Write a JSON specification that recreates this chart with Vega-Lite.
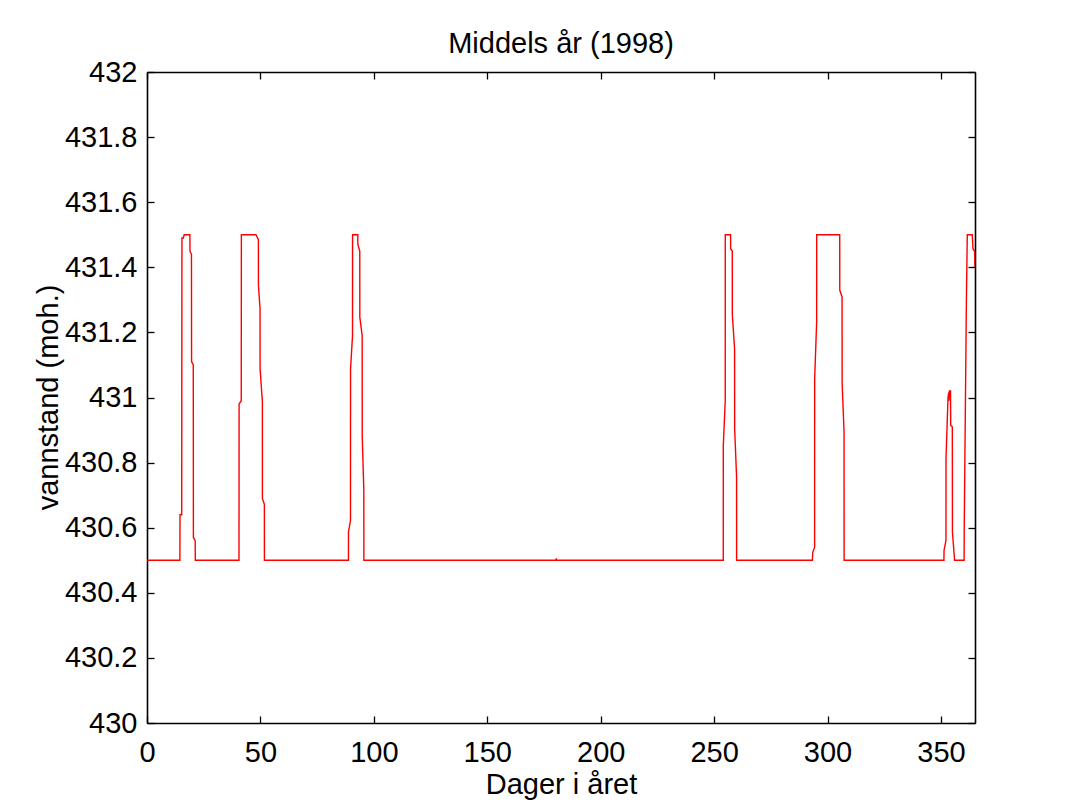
{
  "$schema": "https://vega.github.io/schema/vega-lite/v6.json",
  "autosize": "none",
  "width": 828,
  "height": 651,
  "padding": {"left": 147, "top": 72, "right": 95, "bottom": 88},
  "background": "white",
  "config": {"view": {"stroke": null}, "font": "Liberation Sans"},
  "title": {"text": "Middels år (1998)", "font": "Liberation Sans", "fontSize": 29, "fontWeight": "normal", "color": "black", "anchor": "middle", "baseline": "alphabetic", "frame": "group", "offset": -24},
  "data": {"values": [
    {"day": 0, "level": 430.5},
    {"day": 14.5, "level": 430.5},
    {"day": 14.55, "level": 430.64},
    {"day": 15.3, "level": 430.64},
    {"day": 15.4, "level": 431.49},
    {"day": 16.0, "level": 431.49},
    {"day": 16.4, "level": 431.5},
    {"day": 18.9, "level": 431.5},
    {"day": 18.95, "level": 431.45},
    {"day": 19.6, "level": 431.44},
    {"day": 19.65, "level": 431.11},
    {"day": 20.4, "level": 431.1},
    {"day": 20.45, "level": 430.57},
    {"day": 21.25, "level": 430.56},
    {"day": 21.3, "level": 430.5},
    {"day": 40.55, "level": 430.5},
    {"day": 40.6, "level": 430.98},
    {"day": 41.55, "level": 430.99},
    {"day": 41.6, "level": 431.5},
    {"day": 48.05, "level": 431.5},
    {"day": 49.1, "level": 431.485},
    {"day": 49.12, "level": 431.344},
    {"day": 49.83, "level": 431.273},
    {"day": 49.85, "level": 431.088},
    {"day": 50.86, "level": 430.988},
    {"day": 50.88, "level": 430.689},
    {"day": 51.74, "level": 430.672},
    {"day": 51.76, "level": 430.5},
    {"day": 88.8, "level": 430.5},
    {"day": 88.82, "level": 430.587},
    {"day": 89.7, "level": 430.622},
    {"day": 89.72, "level": 431.088},
    {"day": 90.6, "level": 431.19},
    {"day": 90.62, "level": 431.5},
    {"day": 92.93, "level": 431.5},
    {"day": 92.95, "level": 431.47},
    {"day": 93.8, "level": 431.45},
    {"day": 93.82, "level": 431.247},
    {"day": 94.85, "level": 431.19},
    {"day": 94.87, "level": 430.883},
    {"day": 95.58, "level": 430.715},
    {"day": 95.6, "level": 430.5},
    {"day": 180.3, "level": 430.5},
    {"day": 180.45, "level": 430.506},
    {"day": 180.6, "level": 430.5},
    {"day": 254.03, "level": 430.5},
    {"day": 254.05, "level": 430.853},
    {"day": 254.9, "level": 430.991},
    {"day": 254.92, "level": 431.5},
    {"day": 257.26, "level": 431.5},
    {"day": 257.28, "level": 431.457},
    {"day": 258.0, "level": 431.45},
    {"day": 258.02, "level": 431.254},
    {"day": 259.03, "level": 431.15},
    {"day": 259.05, "level": 430.904},
    {"day": 259.9, "level": 430.756},
    {"day": 259.92, "level": 430.5},
    {"day": 293.3, "level": 430.5},
    {"day": 293.5, "level": 430.525},
    {"day": 294.3, "level": 430.54},
    {"day": 294.32, "level": 431.058},
    {"day": 295.2, "level": 431.232},
    {"day": 295.22, "level": 431.5},
    {"day": 305.37, "level": 431.5},
    {"day": 305.39, "level": 431.33},
    {"day": 306.4, "level": 431.309},
    {"day": 306.42, "level": 431.045},
    {"day": 307.28, "level": 430.893},
    {"day": 307.3, "level": 430.5},
    {"day": 351.3, "level": 430.5},
    {"day": 351.35, "level": 430.53},
    {"day": 352.2, "level": 430.561},
    {"day": 352.22, "level": 430.812},
    {"day": 353.1, "level": 431.0},
    {"day": 353.4, "level": 431.015},
    {"day": 353.5, "level": 430.99},
    {"day": 353.7, "level": 431.02},
    {"day": 354.2, "level": 431.02},
    {"day": 354.3, "level": 430.914},
    {"day": 355.0, "level": 430.91},
    {"day": 355.05, "level": 430.587},
    {"day": 356.0, "level": 430.5},
    {"day": 360.2, "level": 430.5},
    {"day": 360.25, "level": 430.597},
    {"day": 361.2, "level": 431.294},
    {"day": 361.6, "level": 431.5},
    {"day": 363.8, "level": 431.5},
    {"day": 364.1, "level": 431.457},
    {"day": 364.8, "level": 431.45},
    {"day": 365.0, "level": 431.4}
  ]},
  "encoding": {
    "x": {"field": "day", "type": "quantitative", "scale": {"domain": [0, 365], "nice": false, "zero": false}},
    "y": {"field": "level", "type": "quantitative", "scale": {"domain": [430, 432], "nice": false, "zero": false}}
  },
  "layer": [
    {
      "mark": {"type": "line", "color": "#ff0000", "strokeWidth": 1.4, "clip": true},
      "encoding": {
        "x": {"field": "day", "type": "quantitative", "scale": {"domain": [0, 365], "nice": false, "zero": false},
          "axis": {"orient": "bottom", "values": [0, 50, 100, 150, 200, 250, 300, 350], "grid": false,
            "tickSize": -7, "tickColor": "black", "tickWidth": 1.3, "labelPadding": 22, "labelFontSize": 29,
            "labelFont": "Liberation Sans", "labelColor": "black", "labelFlush": false, "labelOverlap": false,
            "domainColor": "black", "domainWidth": 1.6, "title": "Dager i året", "titleFont": "Liberation Sans",
            "titleFontSize": 29, "titleFontWeight": "normal", "titleColor": "black", "titleX": 414, "titleY": 70,
            "titleBaseline": "alphabetic", "titleAlign": "center", "titleAnchor": null}},
        "y": {"field": "level", "type": "quantitative", "scale": {"domain": [430, 432], "nice": false, "zero": false},
          "axis": {"orient": "left", "values": [430, 430.2, 430.4, 430.6, 430.8, 431, 431.2, 431.4, 431.6, 431.8, 432],
            "format": "~g", "grid": false, "tickSize": -7, "tickColor": "black", "tickWidth": 1.3, "labelPadding": 17,
            "labelFontSize": 29, "labelFont": "Liberation Sans", "labelColor": "black", "labelFlush": false,
            "labelOverlap": false, "domainColor": "black", "domainWidth": 1.6, "title": "vannstand (moh.)",
            "titleFont": "Liberation Sans", "titleFontSize": 29, "titleFontWeight": "normal", "titleColor": "black",
            "titleX": -90, "titleY": 325, "titleAngle": -90, "titleBaseline": "alphabetic", "titleAlign": "center", "titleAnchor": null}}
      }
    },
    {
      "mark": {"type": "line", "color": "#ff0000", "strokeWidth": 1.4, "opacity": 0, "clip": true},
      "encoding": {
        "x": {"field": "day", "type": "quantitative", "scale": {"domain": [0, 365], "nice": false, "zero": false},
          "axis": {"orient": "top", "values": [0, 50, 100, 150, 200, 250, 300, 350], "grid": false, "labels": false,
            "tickSize": -7, "tickColor": "black", "tickWidth": 1.3, "domainColor": "black", "domainWidth": 1.6, "title": null}},
        "y": {"field": "level", "type": "quantitative", "scale": {"domain": [430, 432], "nice": false, "zero": false},
          "axis": {"orient": "right", "values": [430, 430.2, 430.4, 430.6, 430.8, 431, 431.2, 431.4, 431.6, 431.8, 432],
            "grid": false, "labels": false, "tickSize": -7, "tickColor": "black", "tickWidth": 1.3,
            "domainColor": "black", "domainWidth": 1.6, "title": null}}
      }
    }
  ],
  "resolve": {"axis": {"x": "independent", "y": "independent"}}
}
